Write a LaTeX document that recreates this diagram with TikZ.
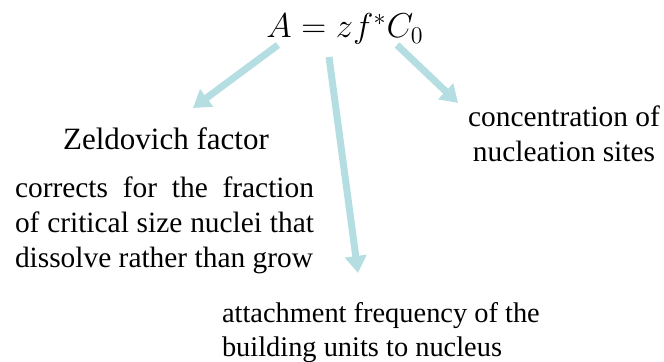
\documentclass[tikz,border=0pt]{standalone}
\usepackage{fontspec}
\setmainfont{Liberation Serif}
\usepackage{amsmath}
\usepackage{tikz}
\usetikzlibrary{arrows.meta}
\usepackage{xcolor}
\definecolor{pointer}{RGB}{180,222,226}

\begin{document}
\begin{tikzpicture}[x=0.5pt, y=-0.5pt,
    pointy/.style={line width=3.5pt, pointer, -{Triangle[length=8.5pt, width=10.5pt]}},
    every node/.style={inner sep=0pt, outer sep=0pt}]

    \useasboundingbox (0,0) rectangle (664,362);

    % Rate prefactor
    \node[anchor=base, font=\rmfamily\fontsize{18}{21}\selectfont] (eq) at (345,38) {$A = zf^{*}C_{0}$};

    % Arrow ends
    \coordinate (fromz) at (278,45);
    \coordinate (fromf) at (329,57);
    \coordinate (fromC) at (397,45);
    \coordinate (toz) at (193,108);
    \coordinate (tof) at (358,273);
    \coordinate (toC) at (458,103);

    % Meaning of each factor
    \node[anchor=base, font=\rmfamily\fontsize{15.5}{18}\selectfont] (zeld) at (166,150) {Zeldovich factor};
    \node[anchor=base west, text width=149.5pt, align=justify,
          font=\rmfamily\fontsize{14.7}{17.5}\selectfont] (zeldtxt) at (15,198)
        {corrects for the fraction\linebreak of critical size nuclei that\linebreak dissolve rather than grow};
    \node[anchor=base, align=center, font=\rmfamily\fontsize{14.7}{17.5}\selectfont] (sites) at (564,162)
        {concentration of\\nucleation sites};
    \node[anchor=base west, align=left, font=\rmfamily\fontsize{14.2}{17}\selectfont] (attach) at (222,357)
        {attachment frequency of the\\building units to nucleus};

    % Pointers
    \draw[pointy] (fromz) -- (toz);
    \draw[pointy] (fromf) -- (tof);
    \draw[pointy] (fromC) -- (toC);

\end{tikzpicture}
\end{document}
